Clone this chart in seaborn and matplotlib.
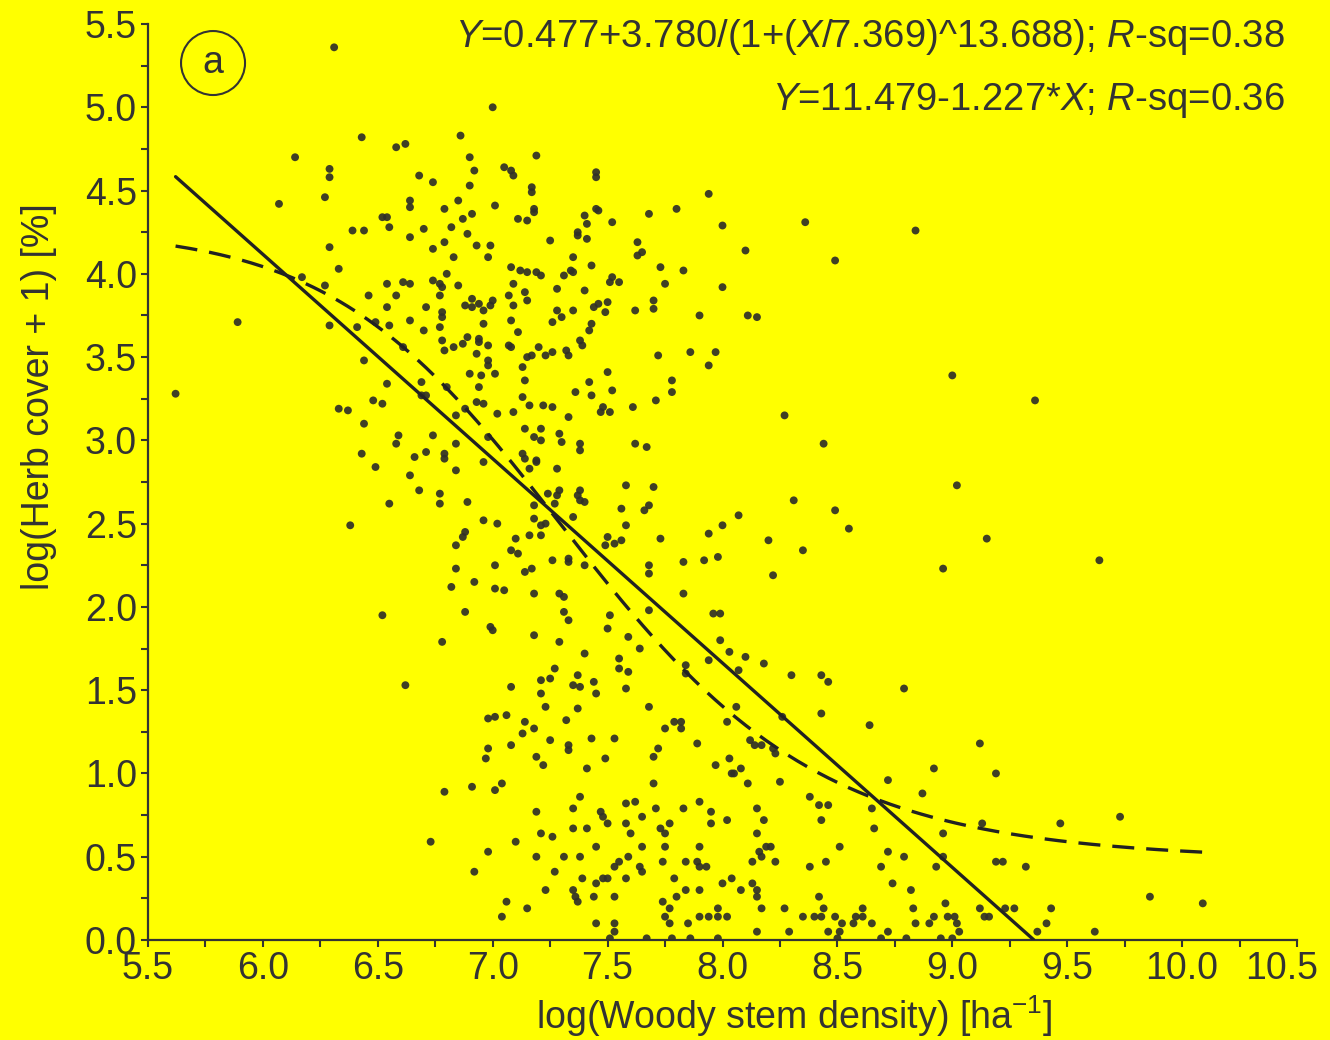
import numpy as np
import pandas as pd
import matplotlib
matplotlib.use("Agg")
import matplotlib.pyplot as plt
from matplotlib.patches import Ellipse
from matplotlib.ticker import MultipleLocator, FuncFormatter
import seaborn as sns

# ---- plot records: (log woody stem density, log(herb cover + 1)) ----
upper_left = [
    (6.31, 5.36), (7.00, 5.00),
    (6.43, 4.82), (6.58, 4.76), (6.62, 4.78), (6.14, 4.70), (6.29, 4.63), (6.29, 4.58), (6.68, 4.59), (6.74, 4.55),
    (6.27, 4.46), (6.07, 4.42), (6.64, 4.44), (6.64, 4.40), (6.79, 4.39), (6.52, 4.34), (6.54, 4.34), (6.55, 4.28),
    (6.39, 4.26), (6.44, 4.26), (6.70, 4.27), (6.64, 4.22), (6.79, 4.19), (6.74, 4.15), (6.29, 4.16), (6.33, 4.03),
    (6.80, 4.00), (6.17, 3.98), (6.27, 3.93), (6.54, 3.94), (6.61, 3.95), (6.64, 3.94), (6.74, 3.96), (6.77, 3.94),
    (6.78, 3.92), (6.46, 3.87), (6.58, 3.87), (6.77, 3.87), (6.54, 3.80), (6.71, 3.80), (6.64, 3.72), (6.78, 3.77),
    (6.78, 3.74), (5.89, 3.71), (6.29, 3.69), (6.41, 3.68), (6.49, 3.71), (6.55, 3.69), (6.77, 3.68), (6.70, 3.66),
    (6.78, 3.60), (6.79, 3.54), (6.61, 3.56), (6.44, 3.48),
]

upper_centre = [
    (6.86, 4.83), (6.90, 4.70), (7.19, 4.71), (6.92, 4.62), (7.05, 4.64), (7.08, 4.62), (7.09, 4.59), (7.45, 4.61),
    (7.45, 4.58), (6.90, 4.53), (7.17, 4.52), (7.17, 4.49), (6.85, 4.44), (7.01, 4.41), (7.18, 4.39), (7.18, 4.37),
    (7.45, 4.39), (7.46, 4.38), (7.94, 4.48), (7.80, 4.39), (7.68, 4.36), (6.91, 4.36), (6.87, 4.33), (7.11, 4.33),
    (7.15, 4.32), (7.40, 4.35), (7.41, 4.30), (7.52, 4.31), (8.00, 4.29), (6.82, 4.28), (7.37, 4.25), (7.37, 4.23),
    (6.89, 4.24), (7.41, 4.21), (6.93, 4.17), (6.99, 4.17), (7.25, 4.20), (7.63, 4.19), (6.98, 4.10), (6.83, 4.10),
    (7.35, 4.10), (7.63, 4.11), (7.65, 4.13), (8.10, 4.14), (7.43, 4.05), (7.08, 4.04), (7.12, 4.02), (7.15, 4.01),
    (7.19, 4.01), (7.21, 3.99), (7.31, 3.99), (7.34, 4.02), (7.35, 4.01), (7.73, 4.04), (7.83, 4.02), (6.85, 3.93),
    (7.09, 3.94), (7.52, 3.98), (7.51, 3.95), (7.55, 3.95), (7.75, 3.94), (8.00, 3.92), (7.28, 3.91), (7.40, 3.90),
    (7.14, 3.89), (7.07, 3.87), (6.91, 3.85), (6.88, 3.81), (6.91, 3.80), (6.94, 3.82), (6.96, 3.78), (6.99, 3.81),
    (7.00, 3.84), (7.15, 3.84), (7.09, 3.81), (7.28, 3.78), (7.30, 3.74), (7.35, 3.78), (7.44, 3.80), (7.46, 3.82),
    (7.50, 3.83), (7.49, 3.77), (7.62, 3.78), (7.70, 3.79), (7.70, 3.84), (7.90, 3.75), (8.11, 3.75), (7.08, 3.72),
    (6.96, 3.70), (7.26, 3.71), (7.11, 3.65), (7.43, 3.70), (7.42, 3.66), (6.89, 3.62), (6.94, 3.61), (6.94, 3.59),
    (6.87, 3.58), (6.83, 3.56), (6.98, 3.57), (7.07, 3.57), (7.08, 3.56), (7.20, 3.56), (7.38, 3.60), (7.39, 3.57),
    (7.32, 3.54), (7.33, 3.51), (6.93, 3.52), (7.15, 3.50), (7.17, 3.51), (7.23, 3.51), (7.26, 3.53), (6.98, 3.48),
    (6.98, 3.45), (7.13, 3.44), (7.72, 3.51), (7.86, 3.53), (7.97, 3.53), (7.94, 3.45), (6.90, 3.40), (6.95, 3.39),
    (7.01, 3.40), (7.50, 3.41),
]

sparse_right = [
    (8.36, 4.31), (8.84, 4.26), (8.49, 4.08), (8.15, 3.74), (9.00, 3.39),
    (9.36, 3.24), (8.27, 3.15), (8.44, 2.98), (9.02, 2.73), (8.31, 2.64), (8.49, 2.58), (8.55, 2.47), (9.15, 2.41),
    (8.20, 2.40), (8.35, 2.34), (8.96, 2.23), (8.22, 2.19), (9.64, 2.28),
]

middle_left = [
    (5.62, 3.28), (6.54, 3.34), (6.69, 3.35), (6.80, 3.32), (6.48, 3.24), (6.52, 3.22), (6.69, 3.27), (6.71, 3.27),
    (6.33, 3.19), (6.37, 3.18), (6.44, 3.10), (6.74, 3.03), (6.59, 3.03), (6.58, 2.98), (6.43, 2.92), (6.66, 2.90),
    (6.71, 2.93), (6.79, 2.92), (6.79, 2.89), (6.49, 2.84), (6.64, 2.79), (6.68, 2.70), (6.77, 2.68), (6.77, 2.62),
    (6.55, 2.62), (6.38, 2.49), (6.52, 1.95), (6.78, 1.79), (6.62, 1.53), (6.79, 0.89), (6.73, 0.59),
]

middle_centre = [
    (6.94, 3.32), (7.14, 3.36), (7.42, 3.35), (7.78, 3.36), (7.13, 3.26), (7.36, 3.29), (7.43, 3.27), (7.52, 3.30),
    (7.78, 3.29), (7.71, 3.24), (6.93, 3.23), (6.96, 3.22), (7.16, 3.21), (7.22, 3.21), (7.26, 3.20), (7.61, 3.20),
    (7.48, 3.20), (7.47, 3.17), (7.51, 3.17), (6.88, 3.19), (6.84, 3.15), (7.02, 3.16), (7.09, 3.17), (7.33, 3.14),
    (7.14, 3.07), (7.21, 3.07), (7.29, 3.04), (7.18, 3.02), (7.21, 3.00), (7.30, 2.99), (6.98, 3.02), (6.84, 2.98),
    (7.38, 2.98), (7.38, 2.94), (7.62, 2.98), (7.67, 2.96), (7.13, 2.92), (7.14, 2.89), (7.19, 2.88), (7.19, 2.87),
    (6.96, 2.87), (7.16, 2.83), (7.28, 2.83), (6.84, 2.82), (7.58, 2.73), (7.70, 2.72), (7.24, 2.68), (7.28, 2.67),
    (7.29, 2.70), (7.37, 2.67), (7.38, 2.70), (7.38, 2.64), (7.40, 2.63), (7.18, 2.61), (7.27, 2.62), (6.89, 2.63),
    (7.56, 2.59), (7.68, 2.61), (7.66, 2.58), (7.35, 2.54), (7.18, 2.53), (8.07, 2.55), (6.96, 2.52), (7.02, 2.50),
    (7.21, 2.49), (7.23, 2.50), (8.00, 2.49), (7.58, 2.49), (6.88, 2.45), (6.87, 2.42), (7.16, 2.43), (7.21, 2.43),
    (7.10, 2.41), (7.50, 2.42), (7.56, 2.40), (7.53, 2.38), (7.49, 2.37), (7.94, 2.44), (7.73, 2.41), (6.84, 2.37),
    (7.08, 2.34), (7.11, 2.32), (7.98, 2.30), (7.92, 2.28), (7.83, 2.27), (7.26, 2.28), (7.33, 2.29), (7.33, 2.27),
    (7.40, 2.25), (7.68, 2.25), (7.68, 2.20), (7.01, 2.25), (7.17, 2.23), (7.14, 2.21), (6.84, 2.23), (6.92, 2.15),
    (7.01, 2.11), (7.05, 2.10), (6.82, 2.12), (7.18, 2.08), (7.29, 2.08), (7.31, 2.06), (7.83, 2.08), (6.88, 1.97),
    (7.31, 1.97), (7.68, 1.98), (7.96, 1.96), (7.99, 1.96), (7.51, 1.95), (7.33, 1.92), (6.99, 1.88), (7.00, 1.86),
    (7.50, 1.87), (7.18, 1.83), (7.59, 1.82), (7.99, 1.80), (7.29, 1.79), (7.64, 1.75), (8.03, 1.73), (7.40, 1.72),
    (8.10, 1.70), (7.55, 1.69),
]

lower_centre = [
    (7.55, 1.63), (7.59, 1.61), (7.84, 1.65), (7.84, 1.60), (7.94, 1.68), (8.07, 1.62), (7.27, 1.63), (7.25, 1.57),
    (7.21, 1.56), (7.37, 1.59), (7.35, 1.53), (7.38, 1.52), (7.44, 1.55), (7.45, 1.48), (7.08, 1.52), (7.21, 1.48),
    (7.58, 1.51), (7.23, 1.40), (7.37, 1.39), (7.68, 1.40), (8.06, 1.40), (7.06, 1.35), (6.98, 1.33), (7.01, 1.34),
    (7.14, 1.31), (7.32, 1.32), (7.79, 1.31), (7.82, 1.31), (7.82, 1.27), (8.02, 1.31), (7.18, 1.27), (7.13, 1.24),
    (7.75, 1.27), (7.25, 1.20), (7.43, 1.21), (7.53, 1.21), (7.89, 1.18), (7.08, 1.17), (7.33, 1.17), (7.33, 1.14),
    (6.98, 1.15), (6.97, 1.09), (7.72, 1.15), (7.70, 1.10), (7.19, 1.10), (7.22, 1.05), (7.49, 1.09), (7.41, 1.03),
    (8.03, 1.09), (7.97, 1.05), (8.08, 1.03), (8.04, 1.00), (8.05, 1.00), (8.11, 0.94), (7.70, 0.94), (6.91, 0.92),
    (7.04, 0.94), (7.01, 0.90), (7.38, 0.86), (7.35, 0.79), (7.58, 0.82), (7.62, 0.83), (7.90, 0.83), (7.83, 0.79),
    (7.19, 0.77), (7.47, 0.77), (7.48, 0.74), (7.65, 0.74), (7.71, 0.79), (7.95, 0.77), (8.02, 0.72), (7.50, 0.70),
    (7.58, 0.70), (7.77, 0.70), (7.95, 0.70), (7.35, 0.67), (7.41, 0.67), (7.21, 0.64), (7.26, 0.62), (7.60, 0.64),
    (7.73, 0.67), (7.75, 0.64), (7.10, 0.59), (7.45, 0.56), (7.65, 0.56), (7.75, 0.56), (7.90, 0.56), (6.98, 0.53),
    (7.19, 0.50), (7.31, 0.50), (7.38, 0.50), (7.59, 0.50), (7.55, 0.47), (7.53, 0.44), (7.74, 0.47), (7.84, 0.47),
    (7.89, 0.47), (7.90, 0.44), (7.93, 0.44), (7.64, 0.44), (7.65, 0.41), (6.92, 0.41), (7.27, 0.41), (7.39, 0.37),
    (7.48, 0.37), (7.50, 0.37), (7.58, 0.37), (7.79, 0.37), (8.04, 0.37), (7.45, 0.34), (8.00, 0.34), (7.23, 0.30),
    (7.35, 0.30), (7.36, 0.26), (7.37, 0.23), (7.44, 0.26), (7.53, 0.26), (7.84, 0.30), (7.90, 0.30), (8.08, 0.30),
    (7.80, 0.26), (7.74, 0.23), (7.06, 0.23), (7.15, 0.19), (7.77, 0.19), (7.04, 0.14), (7.75, 0.14), (7.90, 0.14),
    (7.94, 0.14), (7.98, 0.14), (8.02, 0.14), (7.98, 0.19), (7.45, 0.10), (7.53, 0.10), (7.53, 0.05), (7.77, 0.10),
    (7.85, 0.10), (7.51, 0.01), (7.67, 0.01), (7.78, 0.01), (7.86, 0.01), (7.98, 0.01),
]

lower_right = [
    (8.18, 1.66), (8.30, 1.59), (8.43, 1.59), (8.46, 1.55), (8.79, 1.51), (8.43, 1.36), (8.64, 1.29), (8.26, 1.34),
    (8.12, 1.20), (8.14, 1.17), (8.17, 1.17), (8.22, 1.15), (8.23, 1.12), (9.12, 1.18), (8.92, 1.03), (9.19, 1.00),
    (8.25, 0.95), (8.72, 0.96), (8.87, 0.88), (8.38, 0.86), (8.42, 0.81), (8.46, 0.81), (8.65, 0.79), (8.15, 0.79),
    (8.18, 0.72), (8.43, 0.72), (9.13, 0.70), (8.66, 0.67), (8.15, 0.64), (8.96, 0.64), (8.51, 0.56), (8.19, 0.56),
    (8.21, 0.56), (8.16, 0.53), (8.17, 0.50), (8.72, 0.53), (8.79, 0.50), (8.96, 0.50), (8.13, 0.47), (8.23, 0.47),
    (8.45, 0.47), (9.19, 0.47), (9.22, 0.47), (8.38, 0.44), (8.69, 0.44), (8.93, 0.44), (9.32, 0.44), (8.13, 0.34),
    (8.74, 0.34), (8.15, 0.30), (8.15, 0.26), (8.82, 0.30), (8.42, 0.26), (8.97, 0.22), (8.17, 0.19), (8.27, 0.19),
    (8.44, 0.19), (8.61, 0.19), (8.83, 0.19), (9.12, 0.19), (9.23, 0.19), (9.27, 0.19), (8.35, 0.14), (8.40, 0.14),
    (8.43, 0.14), (8.49, 0.14), (8.58, 0.14), (8.61, 0.14), (8.92, 0.14), (8.98, 0.14), (9.01, 0.14), (9.14, 0.14),
    (9.16, 0.14), (8.52, 0.10), (8.57, 0.10), (8.65, 0.10), (8.84, 0.10), (8.90, 0.10), (9.02, 0.10), (9.41, 0.10),
    (8.15, 0.05), (8.29, 0.05), (8.46, 0.05), (8.51, 0.05), (8.72, 0.05), (9.03, 0.05), (9.37, 0.05), (8.50, 0.01),
    (8.69, 0.01), (8.80, 0.01), (8.95, 0.01), (9.00, 0.01),
    (9.47, 0.70), (9.73, 0.74), (9.43, 0.19), (9.86, 0.26), (10.09, 0.22), (9.62, 0.05),
]

# ---- fitted models ----
sigmoid_params = [0.477, 3.780, 7.369, 13.688]   # a + b / (1 + (x / c) ** d)
linear_params = [11.479, -1.227]                  # intercept, slope
fit_x_range = [5.62, 10.09]

x_limits = [5.5, 10.5]
y_limits = [0.0, 5.5]

eq_sigmoid = r"$\it{Y}$=0.477+3.780/(1+($\it{X}$/7.369)^13.688); $\it{R}$-sq=0.38"
eq_linear = r"$\it{Y}$=11.479-1.227*$\it{X}$; $\it{R}$-sq=0.36"
x_label = r"log(Woody stem density) [ha$^{\mathregular{-1}}$]"
y_label = "log(Herb cover + 1) [%]"
panel_tag = "a"

# ---- styling ----
sns.set_theme(style="ticks")
plt.rcParams["font.family"] = ["Liberation Sans", "DejaVu Sans"]
plt.rcParams["mathtext.fontset"] = "custom"
plt.rcParams["mathtext.rm"] = "Liberation Sans"
plt.rcParams["mathtext.it"] = "Liberation Sans:italic"
plt.rcParams["mathtext.default"] = "regular"

BG = "#ffff00"
INK = "#333333"
FS = 27

records = upper_left + upper_centre + sparse_right + middle_left + middle_centre + lower_centre + lower_right
df = pd.DataFrame(records, columns=["stem_density", "herb_cover"])

fig = plt.figure(figsize=(13.3, 10.4), dpi=100)
fig.patch.set_facecolor(BG)
ax = fig.add_axes([148 / 1330, 100 / 1040, 1149 / 1330, 916 / 1040])
ax.set_facecolor(BG)

sns.scatterplot(data=df, x="stem_density", y="herb_cover", s=32, color="#303028",
                edgecolor="none", alpha=0.92, ax=ax, zorder=3)

# sigmoid (dashed) fit
a, b, c, d = sigmoid_params
xs = np.linspace(fit_x_range[0], fit_x_range[1], 300)
ys = a + b / (1 + (xs / c) ** d)
sns.lineplot(x=xs, y=ys, sort=False, estimator=None, color="#222222", lw=2.4,
             linestyle=(0, (6.6, 3.6)), ax=ax, zorder=4)

# linear fit, drawn down to its x-intercept
b0, b1 = linear_params
x_end = -b0 / b1
xl = np.array([fit_x_range[0], x_end])
sns.lineplot(x=xl, y=b0 + b1 * xl, sort=False, estimator=None, color="#222222", lw=2.4,
             ax=ax, zorder=4)

ax.set_xlim(*x_limits)
ax.set_ylim(*y_limits)
ax.xaxis.set_major_locator(MultipleLocator(0.5))
ax.xaxis.set_minor_locator(MultipleLocator(0.25))
ax.yaxis.set_major_locator(MultipleLocator(0.5))
ax.yaxis.set_minor_locator(MultipleLocator(0.25))

# the right-most x label is drawn separately, nudged left to stay on the page
x_right = x_limits[1]
ax.xaxis.set_major_formatter(FuncFormatter(lambda v, _: "" if abs(v - x_right) < 1e-9 else f"{v:.1f}"))
ax.yaxis.set_major_formatter(FuncFormatter(lambda v, _: f"{v:.1f}"))

for side in ["top", "right"]:
    ax.spines[side].set_visible(False)
for side in ["left", "bottom"]:
    ax.spines[side].set_color(INK)
    ax.spines[side].set_linewidth(1.6)

ax.tick_params(which="both", direction="out", length=5, width=1.5, color=INK)
ax.tick_params(which="major", labelsize=FS, labelcolor=INK, pad=3)

ax.annotate(f"{x_right:.1f}", xy=(x_right, 0), xycoords=("data", "axes fraction"),
            xytext=(-10.8, -8), textcoords="offset points", ha="center", va="top",
            fontsize=FS, color=INK, annotation_clip=False)

ax.set_xlabel(x_label, fontsize=FS, color=INK)
ax.set_ylabel(y_label, fontsize=FS, color=INK)
ax.xaxis.set_label_coords(0.562, -0.058)
ax.yaxis.set_label_coords(-0.079, 0.593)

ax.text(0.9896, 0.9858, eq_sigmoid, transform=ax.transAxes, ha="right", va="center",
        fontsize=27.5, color=INK)
ax.text(0.9896, 0.917, eq_linear, transform=ax.transAxes, ha="right", va="center",
        fontsize=27.5, color=INK)

ax.add_patch(Ellipse((0.0566, 0.9574), 64 / 1149, 64 / 916, transform=ax.transAxes,
                     fill=False, ec=INK, lw=1.5, clip_on=False))
ax.text(0.0566, 0.9574, panel_tag, transform=ax.transAxes, ha="center", va="center",
        fontsize=FS, color=INK)

fig.savefig("out.png", dpi=100, facecolor=BG)
